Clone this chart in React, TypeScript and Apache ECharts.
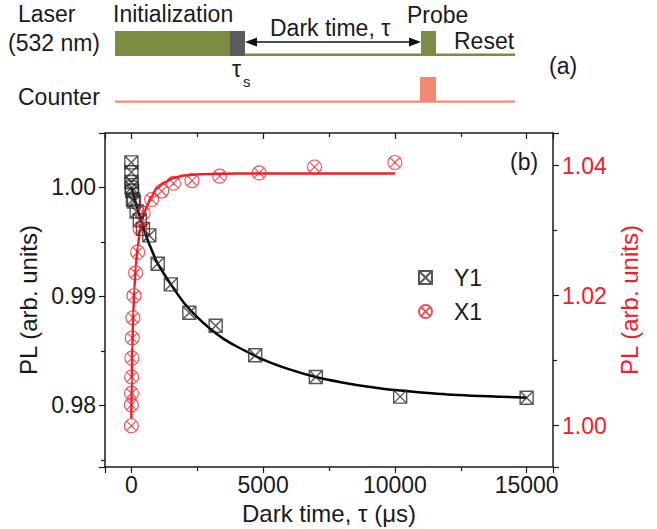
import React, { useEffect, useRef } from "react";
import * as echarts from "echarts";

// Y1 measurement (left axis)
const y1Tau = [1, 2, 5, 10, 30, 60, 100, 200, 320, 440, 680, 1000, 1500, 2200, 3200, 4700, 7000, 10200, 15000];
const y1PL = [1.0023, 1.0014, 1.0005, 1.0, 0.9997, 0.9989, 0.9987, 0.9978, 0.997, 0.9962, 0.9956, 0.993, 0.9911, 0.9885, 0.9873, 0.9846, 0.9826, 0.9808, 0.9807];

// X1 measurement (right axis)
const x1Tau = [0, 2, 5, 10, 20, 35, 60, 100, 160, 240, 330, 450, 770, 1150, 1600, 2300, 3350, 4850, 6950, 10000];
const x1PL = [1.0, 1.0032, 1.005, 1.0075, 1.0104, 1.0135, 1.0166, 1.02, 1.0235, 1.0267, 1.0303, 1.0327, 1.0348, 1.0361, 1.0373, 1.0377, 1.0384, 1.0389, 1.0398, 1.0405];

// fitted curves
const y1FitTau = [0, 200, 400, 600, 800, 1000, 1500, 2000, 2500, 3000, 3500, 4000, 5000, 6000, 7000, 8000, 9000, 10000, 12000, 15000];
const y1FitPL = [1.0, 0.9983, 0.9967, 0.9953, 0.9941, 0.993, 0.9911, 0.9894, 0.9881, 0.987, 0.9861, 0.9854, 0.9842, 0.9833, 0.9826, 0.9821, 0.9817, 0.9814, 0.981, 0.9807];
const x1FitTau = [0, 13, 36, 74, 112, 165, 241, 328, 450, 582, 750, 962, 1250, 1592, 2000, 2605, 4000, 10000];
const x1FitPL = [1.0011, 1.007, 1.0122, 1.0173, 1.0209, 1.0245, 1.0275, 1.0301, 1.0322, 1.0337, 1.0352, 1.0365, 1.0374, 1.0381, 1.0385, 1.0387, 1.0388, 1.0388];

const seriesNames = ["Y1", "X1"];

const FONT = "'Liberation Sans', Arial, sans-serif";
const RED = "#f0202a";
const GREEN = "#7b8c43";
const SALMON = "#f08a70";
const INK = "#1a1a1a";

const squareX = "path://M0,0L20,0L20,20L0,20Z M0,0L20,20 M20,0L0,20";
const circleX = "path://M20,10A10,10,0,1,1,0,10A10,10,0,1,1,20,10Z M2.93,2.93L17.07,17.07 M17.07,2.93L2.93,17.07";

const zip = (a: number[], b: number[]) => a.map((v, i) => [v, b[i]]);

const tickStyle = { color: INK, width: 1.2 };

export default function App() {
  const ref = useRef<HTMLDivElement>(null);
  useEffect(() => {
    if (!ref.current) return;
    const chart = echarts.init(ref.current, undefined, { renderer: "svg" });
    const txt = (text: string, x: number, y: number, size = 23, extra: any = {}) => ({
      type: "text",
      x,
      y,
      style: { text, font: `${size}px ${FONT}`, fill: INK, textVerticalAlign: "middle", ...extra },
      silent: true,
    });
    const option: any = {
      animation: false,
      backgroundColor: "#fff",
      textStyle: { fontFamily: FONT },
      grid: { left: 105, right: 104, top: 133, bottom: 62, containLabel: false, outerBoundsMode: "none" },
      legend: {
        data: [
          { name: seriesNames[0], icon: squareX },
          { name: seriesNames[1], icon: circleX },
        ],
        orient: "vertical",
        left: 413,
        top: 261,
        itemWidth: 13,
        itemHeight: 13,
        itemGap: 11,
        textStyle: { fontSize: 23, color: INK, fontFamily: FONT, padding: [0, 0, 0, 17] },
      },
      xAxis: [
        {
          type: "value",
          position: "bottom",
          min: -1000,
          max: 16000,
          splitNumber: 3,
          name: "Dark time, \u03c4 (\u03bcs)",
          nameLocation: "middle",
          nameGap: 34,
          nameTextStyle: { fontSize: 24, color: INK, fontFamily: FONT },
          axisLine: { onZero: false, lineStyle: { color: INK, width: 1.5 } },
          axisTick: { length: 6, lineStyle: tickStyle },
          minorTick: { show: true, splitNumber: 2, length: 4, lineStyle: tickStyle },
          axisLabel: {
            fontSize: 23,
            color: INK,
            margin: 6,
            formatter: (v: number) => (Math.abs(v % 5000) < 1e-6 ? String(v) : ""),
          },
          splitLine: { show: false },
        },
        {
          type: "value",
          position: "top",
          min: -1000,
          max: 16000,
          splitNumber: 3,
          axisLine: { onZero: false, lineStyle: { color: INK, width: 1.5 } },
          axisTick: { inside: true, length: 6, lineStyle: tickStyle },
          minorTick: { show: true, splitNumber: 2, length: 4, lineStyle: tickStyle },
          axisLabel: { show: false },
          splitLine: { show: false },
        },
      ],
      yAxis: [
        {
          type: "value",
          position: "left",
          min: 0.97434,
          max: 1.005,
          splitNumber: 3,
          name: "PL (arb. units)",
          nameLocation: "middle",
          nameGap: 62,
          nameTextStyle: { fontSize: 24, color: INK, fontFamily: FONT },
          axisLine: { show: true, onZero: false, lineStyle: { color: INK, width: 1.5 } },
          axisTick: { show: true, length: 6, lineStyle: tickStyle },
          minorTick: { show: true, splitNumber: 2, length: 4, lineStyle: tickStyle },
          axisLabel: {
            fontSize: 23,
            color: INK,
            margin: 9,
            formatter: (v: number) => (Math.abs(v * 100 - Math.round(v * 100)) < 1e-6 ? v.toFixed(2) : ""),
          },
          splitLine: { show: false },
        },
        {
          type: "value",
          position: "right",
          min: 0.99365,
          max: 1.04503,
          splitNumber: 3,
          name: "PL (arb. units)",
          nameLocation: "middle",
          nameGap: 64,
          nameTextStyle: { fontSize: 24, color: RED, fontFamily: FONT },
          axisLine: { show: true, onZero: false, lineStyle: { color: INK, width: 1.5 } },
          axisTick: { show: true, length: 6, lineStyle: tickStyle },
          minorTick: { show: true, splitNumber: 2, length: 4, lineStyle: tickStyle },
          axisLabel: {
            fontSize: 23,
            color: RED,
            margin: 9,
            formatter: (v: number) => (Math.abs(v * 50 - Math.round(v * 50)) < 1e-6 ? v.toFixed(2) : ""),
          },
          splitLine: { show: false },
        },
      ],
      series: [
        {
          type: "line",
          name: "Y1 fit",
          xAxisIndex: 0,
          yAxisIndex: 0,
          data: zip(y1FitTau, y1FitPL),
          showSymbol: false,
          smooth: 0.25,
          lineStyle: { color: "#000", width: 2.5 },
          z: 2,
          silent: true,
        },
        {
          type: "line",
          name: "X1 fit",
          xAxisIndex: 0,
          yAxisIndex: 1,
          data: zip(x1FitTau, x1FitPL),
          showSymbol: false,
          smooth: 0.3,
          smoothMonotone: "x",
          lineStyle: { color: RED, width: 2.5 },
          z: 2,
          silent: true,
        },
        {
          type: "scatter",
          name: seriesNames[0],
          xAxisIndex: 0,
          yAxisIndex: 0,
          data: zip(y1Tau, y1PL),
          symbol: squareX,
          symbolSize: 13,
          itemStyle: { color: "rgba(255,255,255,0)", borderColor: "#2a2a2a", borderWidth: 1.4 },
          z: 3,
        },
        {
          type: "scatter",
          name: seriesNames[1],
          xAxisIndex: 0,
          yAxisIndex: 1,
          data: zip(x1Tau, x1PL),
          symbol: circleX,
          symbolSize: 14,
          itemStyle: { color: "rgba(255,255,255,0)", borderColor: RED, borderWidth: 1.1 },
          z: 3,
        },
      ],
      graphic: [
        txt("Laser", 18, 14),
        txt("(532 nm)", 8, 43),
        txt("Initialization", 113, 14),
        txt("Dark time, \u03c4", 270, 28),
        txt("Probe", 407, 15),
        txt("Reset", 454, 41),
        txt("(a)", 549, 66),
        txt("\u03c4", 232, 69),
        txt("s", 243, 81, 15),
        txt("Counter", 18, 97),
        txt("(b)", 510, 162),
        { type: "rect", shape: { x: 115, y: 31, width: 115, height: 25 }, style: { fill: GREEN }, silent: true },
        { type: "rect", shape: { x: 230, y: 31, width: 15, height: 25 }, style: { fill: "#5c5c5e" }, silent: true },
        { type: "rect", shape: { x: 245, y: 53.5, width: 270, height: 2.5 }, style: { fill: GREEN }, silent: true },
        { type: "rect", shape: { x: 421, y: 31, width: 15, height: 25 }, style: { fill: GREEN }, silent: true },
        { type: "rect", shape: { x: 115, y: 100.5, width: 400, height: 2.2 }, style: { fill: SALMON }, silent: true },
        { type: "rect", shape: { x: 420, y: 77, width: 16, height: 25 }, style: { fill: SALMON }, silent: true },
        { type: "line", shape: { x1: 252, y1: 42, x2: 414, y2: 42 }, style: { stroke: "#111", lineWidth: 1.6 }, silent: true },
        { type: "polygon", shape: { points: [[245, 42], [257, 37.5], [257, 46.5]] }, style: { fill: "#111" }, silent: true },
        { type: "polygon", shape: { points: [[421, 42], [409, 37.5], [409, 46.5]] }, style: { fill: "#111" }, silent: true },
      ],
    };
    chart.setOption(option);
    return () => chart.dispose();
  }, []);
  return <div ref={ref} style={{ width: 657, height: 529, position: "absolute", left: 0, top: 0 }} />;
}
